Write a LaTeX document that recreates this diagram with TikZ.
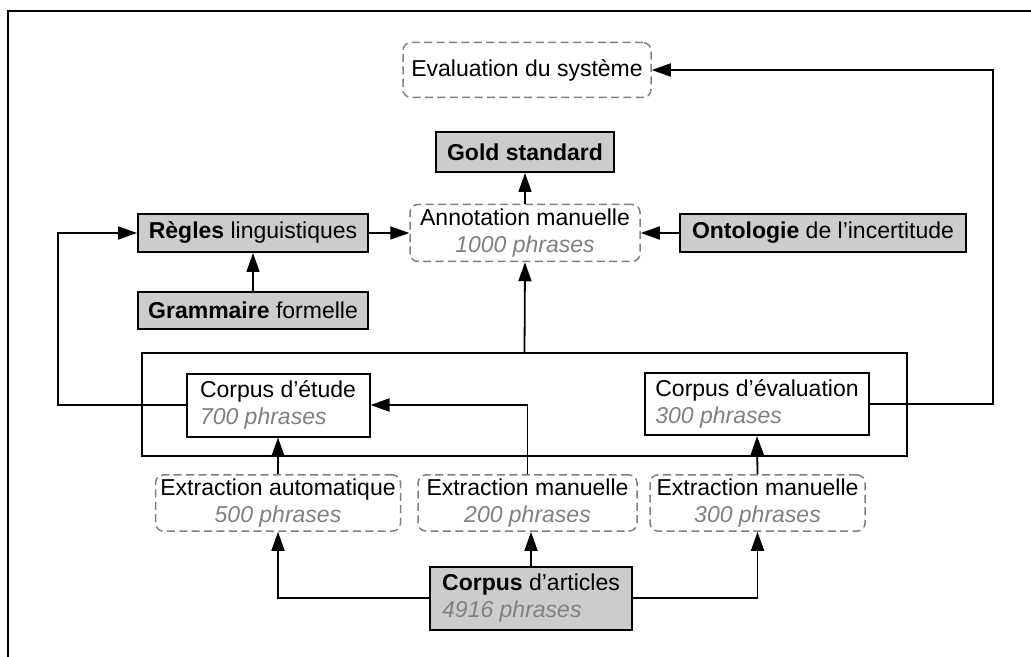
\documentclass[tikz,border=0pt]{standalone}
\usepackage{fontspec}
\setmainfont{Liberation Sans}
\usetikzlibrary{positioning,arrows.meta}

\newcommand{\nbphr}[1]{{\color{black!50}\itshape #1}}

\begin{document}
\begin{tikzpicture}[x=0.5pt,y=-0.5pt,
      plainbox/.style={rectangle, draw=black, line width=1pt, fill=white, inner sep=2pt},
      greybox/.style={plainbox, fill=black!20},
      dashbox/.style={rectangle, rounded corners=4pt, draw=black!50, line width=0.75pt,
        dash pattern=on 4pt off 2.2pt, fill=white, align=center, inner sep=2pt},
      arr/.style={line width=0.9pt,-{Triangle[length=9.5pt,width=6.5pt]}}
      ]
      \fontsize{11.5}{13.4}\selectfont
      \useasboundingbox (0,0) rectangle (1031,657);
      \draw[line width=0.9pt] (8,657) -- (8,11) -- (1031,11);
      \node (grp) [draw, line width=1pt, minimum width=382.5pt, minimum height=51.5pt] at (524.5,404.5) {};
      % top part
      \node (evalsys) [dashbox, minimum width=124pt, minimum height=27.5pt] at (527,70) {Evaluation du système};
      \node (gold) [greybox, minimum width=89pt, minimum height=20pt] at (525,152) {\textbf{Gold standard}};
      \node (annot) [dashbox, minimum width=115pt, minimum height=28.5pt] at (525,233) {Annotation manuelle\\\nbphr{1000 phrases}};
      \node (regles) [greybox, minimum width=115pt, minimum height=19pt] at (253,233) {\textbf{Règles} linguistiques};
      \node (onto) [greybox, minimum width=143pt, minimum height=19pt] at (823,233) {\textbf{Ontologie} de l’incertitude};
      \node (gram) [greybox, minimum width=115pt, minimum height=18.5pt] at (253,310) {\textbf{Grammaire} formelle};
      % corpus
      \node (etude) [plainbox, align=left, minimum width=91.5pt, minimum height=31.5pt] at (278,405) {Corpus d’étude\\\nbphr{700 phrases}};
      \node (evalc) [plainbox, align=left, minimum width=112pt, minimum height=31pt] at (757,404) {Corpus d’évaluation\\\nbphr{300 phrases}};
      \node (extA) [dashbox, minimum width=122.5pt, minimum height=28pt] at (278,503) {Extraction automatique\\\nbphr{500 phrases}};
      \node (extM) [dashbox, minimum width=109.5pt, minimum height=28pt] at (527.5,503) {Extraction manuelle\\\nbphr{200 phrases}};
      \node (extM2) [dashbox, minimum width=107.5pt, minimum height=28pt] at (757.5,503) {Extraction manuelle\\\nbphr{300 phrases}};
      \node (art) [greybox, align=left, minimum width=101pt, minimum height=31.5pt] at (531,598) {\textbf{Corpus} d’articles\\\nbphr{4916 phrases}};
      \coordinate (lft) at (58,405);
      \coordinate (rgt) at (993,404);
      \draw[arr] (art.west) -| (extA.south);
      \draw[arr] (art.east) -| (extM2.south);
      \draw[arr] (art.north) -- (art.north |- extM.south);
      \draw[arr] (extA) -- (etude);
      \draw[arr] (extM.north) |- (etude.east);
      \draw[arr] (extM2.north) -- (evalc.south);
      \draw[arr] (grp.north) -- (annot.south);
      \draw[arr] (etude.west) -- (lft) |- (regles.west);
      \draw[arr] (evalc.east) -- (rgt) |- (evalsys.east);
      \draw[arr] (gram) -- (regles);
      \draw[arr] (regles) -- (annot);
      \draw[arr] (onto) -- (annot);
      \draw[arr] (annot) -- (gold);
\end{tikzpicture}
\end{document}
